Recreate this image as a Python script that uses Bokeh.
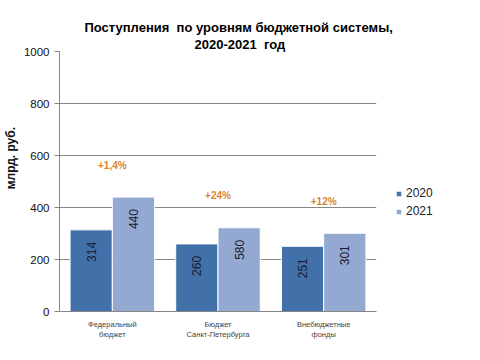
import math
from bokeh.plotting import figure
from bokeh.models import ColumnDataSource, Legend, LegendItem, FactorRange, Title
from bokeh.transform import dodge
from bokeh.core.properties import value
from bokeh.embed import file_html
from bokeh.resources import INLINE

categories = ["Федеральный\nбюджет", "Бюджет\nСанкт-Петербурга", "Внебюджетные\nфонды"]
values_2020 = [314, 260, 251]
values_2021 = [440, 322, 301]
labels_2020 = ["314", "260", "251"]
labels_2021 = ["440", "580", "301"]
growth = ["+1,4%", "+24%", "+12%"]
y_ticks = [0, 200, 400, 600, 800, 1000]
title_lines = ["Поступления\u00a0 по уровням бюджетной системы,", "2020-2021\u00a0 год"]

FONT = "Liberation Sans"
C2020 = "#4270A8"
C2021 = "#94A9D2"

src = ColumnDataSource(dict(
    cat=categories,
    v2020=values_2020,
    v2021=values_2021,
    l2020=labels_2020,
    l2021=labels_2021,
    g=growth,
    top=[max(a, b) for a, b in zip(values_2020, values_2021)],
))

p = figure(x_range=FactorRange(*categories), y_range=(0, 1000),
           frame_width=317, frame_height=260,
           min_border_left=55, min_border_right=92,
           min_border_top=51, min_border_bottom=33,
           output_backend="svg", toolbar_location=None)
p.outline_line_color = None
p.background_fill_color = "white"

r1 = p.vbar(x=dodge("cat", -0.2, range=p.x_range), top="v2020", width=0.4,
            source=src, fill_color=C2020, line_color="white", line_width=1)
r2 = p.vbar(x=dodge("cat", 0.2, range=p.x_range), top="v2021", width=0.4,
            source=src, fill_color=C2021, line_color="white", line_width=1)

for col, lab, off in (("v2020", "l2020", -0.2), ("v2021", "l2021", 0.2)):
    p.text(x=dodge("cat", off, range=p.x_range), y=col, text=lab, source=src,
           angle=math.pi / 2, text_align="right", text_baseline="middle",
           y_offset=12, text_font=value(FONT), text_font_size="12px",
           text_color="#1b1b33")

p.text(x="cat", y="top", text="g", source=src, y_offset=-32,
       text_align="center", text_baseline="middle",
       text_font=value(FONT), text_font_size="10px", text_font_style="bold",
       text_color="#D8862F")

# axes
p.yaxis.ticker = y_ticks
p.yaxis.major_label_text_font = FONT
p.yaxis.major_label_text_font_size = "11.5px"
p.yaxis.major_label_text_color = "#111111"
p.yaxis.axis_line_color = "#868686"
p.yaxis.major_tick_line_color = "#868686"
p.yaxis.major_tick_out = 5
p.yaxis.major_tick_in = 0
p.yaxis.minor_tick_line_color = None
p.yaxis.major_label_standoff = 5
p.yaxis.axis_label = "\u00a0" * 14 + "млрд. руб."
p.yaxis.axis_label_text_font = FONT
p.yaxis.axis_label_text_font_size = "12px"
p.yaxis.axis_label_text_font_style = "bold"
p.yaxis.axis_label_text_color = "#111111"
p.yaxis.axis_label_standoff = 3

p.xaxis.axis_line_color = "#868686"
p.xaxis.major_tick_line_color = None
p.xaxis.minor_tick_line_color = None
p.xaxis.major_label_text_font = FONT
p.xaxis.major_label_text_font_size = "7.5px"
p.xaxis.major_label_text_color = "#444444"
p.xaxis.major_label_standoff = 2

p.xgrid.grid_line_color = None
p.ygrid.grid_line_color = "#868686"
p.ygrid.grid_line_width = 1

# chart title (two lines, later-added is farther from the plot)
p.add_layout(Title(text=title_lines[1], align="left", offset=135, standoff=0,
                   text_font=FONT, text_font_size="13px", text_font_style="bold",
                   text_color="#000000"), "above")
p.add_layout(Title(text=title_lines[0], align="left", offset=25, standoff=0,
                   text_font=FONT, text_font_size="13px", text_font_style="bold",
                   text_color="#000000"), "above")

legend = Legend(items=[LegendItem(label="2020", renderers=[r1]),
                       LegendItem(label="2021", renderers=[r2])],
                location=(19, 93), glyph_width=7, glyph_height=7,
                label_height=14, label_standoff=4, spacing=4,
                padding=0, margin=0, border_line_color=None,
                background_fill_alpha=0,
                label_text_font=FONT, label_text_font_size="12px",
                label_text_color="#222222")
p.add_layout(legend, "right")

open("out.html", "w").write(file_html(p, INLINE))
